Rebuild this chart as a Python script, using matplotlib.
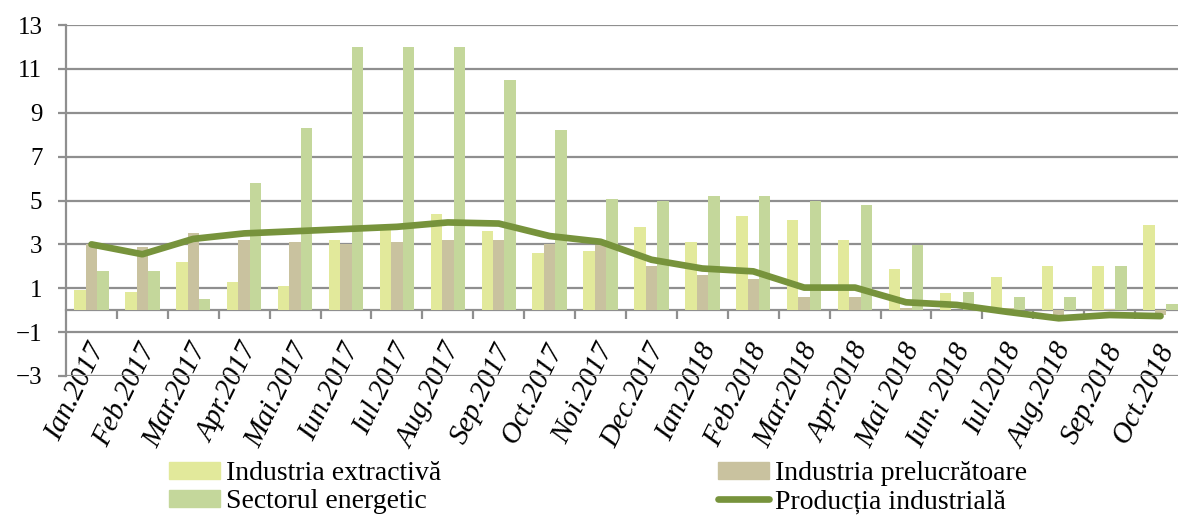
import matplotlib
matplotlib.use('Agg')
import matplotlib.pyplot as plt
import matplotlib.transforms as mtransforms
import numpy as np
from matplotlib.ticker import FixedLocator, NullFormatter, FixedFormatter
from matplotlib.patches import Patch
from matplotlib.lines import Line2D

categories = ['Ian.2017', 'Feb.2017', 'Mar.2017', 'Apr.2017', 'Mai.2017', 'Iun.2017',
              'Iul.2017', 'Aug.2017', 'Sep.2017', 'Oct.2017', 'Noi.2017', 'Dec.2017',
              'Ian.2018', 'Feb.2018', 'Mar.2018', 'Apr.2018', 'Mai 2018', 'Iun. 2018',
              'Iul.2018', 'Aug.2018', 'Sep.2018', 'Oct.2018']

extractiva = [0.9, 0.85, 2.2, 1.3, 1.1, 3.2, 3.65, 4.4, 3.6, 2.6, 2.7, 3.8,
              3.1, 4.3, 4.1, 3.2, 1.9, 0.8, 1.5, 2.0, 2.0, 3.9]
prelucratoare = [3.0, 2.9, 3.5, 3.2, 3.1, 3.0, 3.1, 3.2, 3.2, 3.0, 2.95, 2.0,
                 1.6, 1.4, 0.6, 0.6, 0.1, 0.0, 0.1, -0.25, 0.05, -0.2]
energetic = [1.8, 1.8, 0.5, 5.8, 8.3, 12.0, 12.0, 12.0, 10.5, 8.2, 5.05, 5.0,
             5.2, 5.2, 5.0, 4.8, 2.95, 0.85, 0.6, 0.6, 2.0, 0.3]
productia = [3.0, 2.55, 3.25, 3.5, 3.6, 3.7, 3.8, 4.0, 3.95, 3.38, 3.12, 2.3,
             1.9, 1.77, 1.03, 1.03, 0.36, 0.24, -0.08, -0.37, -0.22, -0.27]

series_labels = ['Industria extractivă', 'Industria prelucrătoare',
                 'Sectorul energetic', 'Producția industrială']

c_extr = '#E2E99B'
c_prel = '#C9C29F'
c_energ = '#C4D79B'
c_line = '#77933C'
c_grid = '#8F8F8F'

plt.rcParams['font.family'] = ['Liberation Serif', 'DejaVu Serif']

W, H = 1178, 518
fig = plt.figure(figsize=(W / 100, H / 100), dpi=100)
ax = fig.add_axes([66 / W, 142 / H, 1120 / W, 351 / H])

x = np.arange(len(categories))
bw = 0.225
ax.bar(x - bw, extractiva, bw, color=c_extr, zorder=2)
ax.bar(x, prelucratoare, bw, color=c_prel, zorder=2)
ax.bar(x + bw, energetic, bw, color=c_energ, zorder=2)
ax.plot(x, productia, color=c_line, lw=4.8, solid_capstyle='round',
        solid_joinstyle='round', zorder=3)

ax.set_xlim(-0.5, len(categories) - 0.5)
ax.set_ylim(-3, 13)
ax.set_yticks(np.arange(-3, 14, 2))
ax.set_axisbelow(True)
ax.yaxis.grid(True, color=c_grid, lw=1.6)

for s in ['top', 'right']:
    ax.spines[s].set_visible(False)
ax.spines['bottom'].set_position(('data', 0))
for s in ['bottom', 'left']:
    ax.spines[s].set_color(c_grid)
    ax.spines[s].set_linewidth(1.6)
ax.spines['bottom'].set_zorder(1)

ax.xaxis.set_major_locator(FixedLocator(np.arange(0.5, len(categories) - 0.5, 1)))
ax.xaxis.set_major_formatter(NullFormatter())
ax.xaxis.set_minor_locator(FixedLocator(x))
ax.xaxis.set_minor_formatter(FixedFormatter(categories))
ax.tick_params(axis='x', which='major', direction='out', length=6.5, width=1.6, color=c_grid)
ax.tick_params(axis='x', which='minor', length=0, pad=25)
ax.tick_params(axis='y', direction='out', length=6, width=1.6, color=c_grid, pad=11)

shift = mtransforms.ScaledTranslation(7 / 100, 0, fig.dpi_scale_trans)
for lab in ax.get_xticklabels(minor=True):
    lab.set_rotation(64)
    lab.set_ha('right')
    lab.set_va('center')
    lab.set_rotation_mode('anchor')
    lab.set_fontstyle('italic')
    lab.set_fontsize(21)
    lab.set_transform(lab.get_transform() + shift)

for lab in ax.get_yticklabels():
    lab.set_fontsize(18)

handles = [Patch(color=c_extr), Patch(color=c_energ), Patch(color=c_prel),
           Line2D([0], [0], color=c_line, lw=4.8, solid_capstyle='round')]
labels = [series_labels[0], series_labels[2], series_labels[1], series_labels[3]]
fig.legend(handles, labels, ncol=2, loc='upper left',
           bbox_to_anchor=(169 / W, 1 - 461 / H), frameon=False,
           prop={'size': 20},
           handlelength=1.85, handleheight=0.55, handletextpad=0.2,
           columnspacing=9.95, labelspacing=0.12, borderpad=0, borderaxespad=0)

fig.savefig('out.png', dpi=100)
